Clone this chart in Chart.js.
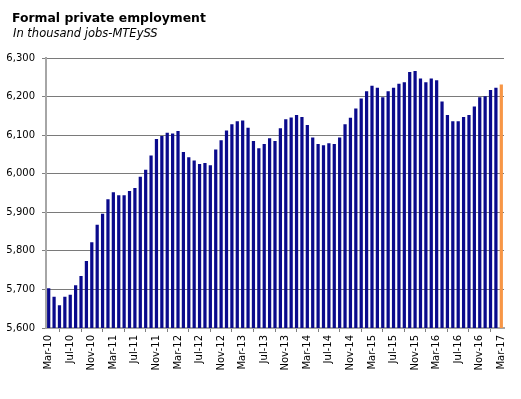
<!DOCTYPE html>
<html>
<head>
<meta charset="utf-8">
<script src="https://cdn.jsdelivr.net/npm/chart.js@4"></script>
<style>
  body { margin: 0; background: #fff; }
  canvas { display: block; }
</style>
</head>
<body>
<canvas id="employment" width="521" height="399"></canvas>
<script>
// Monthly formal private employment, thousand jobs (Mar-10 .. Mar-17)
const monthNames = ['Jan', 'Feb', 'Mar', 'Apr', 'May', 'Jun', 'Jul', 'Aug', 'Sep', 'Oct', 'Nov', 'Dec'];
const firstMonth = 2;   // March
const firstYear = 10;   // 2010

const jobs = [
    5703, 5681, 5659, 5681, 5686, 5711, 5735, 5774, 5822, 5868, 5896, 5934, 5952,
    5944, 5944, 5955, 5963, 5992, 6010, 6047, 6090, 6098, 6106, 6104, 6111,
    6056, 6043, 6034, 6025, 6028, 6022, 6063, 6087, 6112, 6128, 6136, 6138,
    6119, 6085, 6066, 6077, 6092, 6085, 6118, 6141, 6146, 6152, 6147, 6126,
    6094, 6077, 6074, 6079, 6077, 6094, 6128, 6145, 6169, 6195, 6214, 6228,
    6223, 6198, 6214, 6223, 6233, 6237, 6264, 6266, 6247, 6237, 6247, 6242,
    6187, 6152, 6136, 6136, 6147, 6152, 6174, 6198, 6201, 6217, 6223, 6231
];

const yMin = 5600;
const yMax = 6300;
const yStep = 100;

// Build "Mar-10" style category labels
const months = jobs.map((v, i) => {
    const m = (firstMonth + i) % 12;
    const y = firstYear + Math.floor((firstMonth + i) / 12);
    return monthNames[m] + '-' + String(y).padStart(2, '0');
});

// Latest month highlighted in orange
const barColors = jobs.map((v, i) => i === jobs.length - 1 ? '#f79646' : '#0a0a8c');

// Title + subtitle drawn top-left
const headerPlugin = {
    id: 'header',
    afterDraw(chart) {
        const c = chart.ctx;
        c.save();
        c.fillStyle = '#000';
        c.textBaseline = 'alphabetic';
        c.textAlign = 'left';
        c.font = 'bold 12.4px "DejaVu Sans"';
        c.fillText('Formal private employment', 12, 22);
        c.font = 'italic 11.5px "DejaVu Sans"';
        c.fillText('In thousand jobs-MTEySS', 13, 37);
        c.restore();
    }
};

const ctx = document.getElementById('employment').getContext('2d');

new Chart(ctx, {
    type: 'bar',
    data: {
        labels: months,
        datasets: [{
            data: jobs,
            backgroundColor: barColors,
            borderWidth: 0,
            categoryPercentage: 1,
            barPercentage: 0.6
        }]
    },
    options: {
        responsive: false,
        animation: false,
        layout: {
            padding: { top: 58, right: 17, bottom: 0, left: 0 }
        },
        plugins: {
            legend: { display: false },
            tooltip: { enabled: false }
        },
        scales: {
            x: {
                afterFit(scale) { scale.height = 71; },
                border: { color: '#a6a6a6', width: 2 },
                grid: {
                    offset: true,
                    drawOnChartArea: false,
                    tickLength: 4,
                    color: '#808080'
                },
                ticks: {
                    autoSkip: false,
                    minRotation: 90,
                    maxRotation: 90,
                    padding: 3,
                    color: '#000',
                    font: { family: 'DejaVu Sans', size: 10 },
                    callback: function(value, index) {
                        return index % 4 === 0 ? this.getLabelForValue(value) : null;
                    }
                }
            },
            y: {
                min: yMin,
                max: yMax,
                afterFit(scale) { scale.width = 46; },
                border: { color: '#a6a6a6', width: 2 },
                grid: {
                    color: '#7a7a7a',
                    borderDash: [4, 3],
                    tickLength: 4,
                    tickBorderDash: [],
                    tickColor: '#808080'
                },
                ticks: {
                    stepSize: yStep,
                    padding: 7,
                    color: '#000',
                    font: { family: 'DejaVu Sans', size: 10 },
                    callback: value => value.toLocaleString('en-US')
                }
            }
        }
    },
    plugins: [headerPlugin]
});
</script>
</body>
</html>
